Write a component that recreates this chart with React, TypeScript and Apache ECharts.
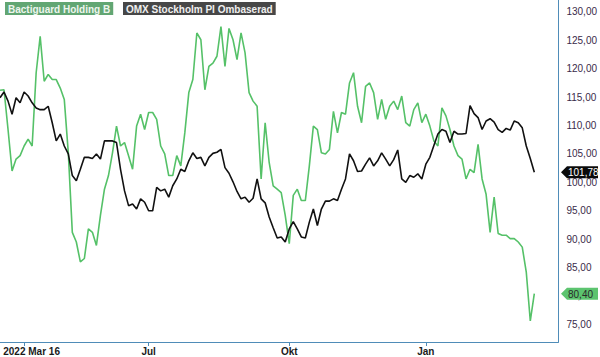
import React, { useEffect, useRef } from 'react';
import * as echarts from 'echarts';

// Trading-day categories (every second weekday from 2022-03-16)
const startDate = '2022-03-16';
const categoryCount = 140;
const categories: string[] = (() => {
  const out: string[] = [];
  const d = new Date(startDate + 'T00:00:00Z');
  let k = 0;
  while (out.length < categoryCount) {
    const wd = d.getUTCDay();
    if (wd !== 0 && wd !== 6) {
      if (k % 2 === 0) out.push(d.toISOString().slice(0, 10));
      k++;
    }
    d.setUTCDate(d.getUTCDate() + 1);
  }
  return out;
})();

const seriesNames = ['Bactiguard Holding B', 'OMX Stockholm PI Ombaserad'];

const bactiguard = [
  116.2, 116.3, 109.3, 102.0, 104.1, 104.7, 106.4, 107.6, 106.4, 119.3,
  125.7, 117.8, 119.0, 118.1, 118.1, 116.6, 114.6, 105.2, 91.2, 89.5,
  86.0, 86.6, 91.8, 91.2, 88.9, 94.2, 98.8, 101.2, 105.2, 109.9,
  106.4, 107.0, 104.7, 102.3, 109.9, 112.0, 109.3, 112.3,
  112.3, 111.1, 106.4, 105.0, 101.2, 101.2, 104.7, 102.9, 108.7, 115.8, 118.1, 126.3,
  125.1, 116.3, 120.4, 121.0, 122.2, 127.4, 120.4, 127.1, 125.1, 121.6,
  126.3, 122.8, 115.8, 114.3, 113.4, 100.6, 110.5, 103.5, 99.4, 98.8,
  98.2, 94.2, 89.2, 97.7, 98.8,
  96.8, 96.8, 102.9, 109.9, 109.3, 105.2, 105.0, 105.8, 112.5, 108.7,
  112.3, 112.0, 117.5, 119.3, 113.4, 110.5, 116.9, 117.5, 115.8, 111.1,
  114.6, 111.1, 113.4, 114.3, 112.8, 115.2, 110.5, 109.9, 112.8, 114.0,
  110.5, 112.0, 109.9,
  107.3, 106.4, 113.1, 111.7, 109.3, 106.4, 104.7, 104.1, 100.6, 102.3,
  101.7, 106.7, 100.6, 97.9, 91.2, 97.4, 91.0, 90.7, 90.7, 90.1,
  90.1, 89.5, 88.6, 84.2, 75.6, 80.4,
];

const omx = [
  114.9, 115.9, 114.3, 112.0, 114.9, 114.0, 115.9, 115.2, 114.0, 113.1,
  112.8, 112.8, 113.4, 110.5, 107.3, 108.5, 106.4, 105.0, 101.2, 100.3,
  102.3, 104.4, 104.4, 104.2, 105.0, 104.1, 107.3, 107.3, 107.3, 107.0,
  102.3, 98.5, 95.9, 96.2, 95.3, 97.1, 96.5, 95.0,
  95.0, 99.1, 98.5, 98.8, 97.4, 99.4, 100.6, 102.3, 101.9, 103.8, 105.2, 104.2,
  104.4, 102.9, 104.4, 105.1, 105.3, 105.8, 102.6, 101.6, 100.1, 98.4,
  97.1, 97.4, 96.5, 97.2, 100.6, 97.1, 96.4, 93.9, 92.0, 90.2,
  90.4, 89.5, 91.8, 93.1, 91.8,
  90.4, 90.2, 93.0, 95.3, 92.4, 95.3, 96.7, 96.7, 97.1, 96.8,
  98.8, 100.6, 105.0, 103.8, 101.9, 102.0, 103.2, 104.3, 102.9, 103.8,
  105.2, 104.1, 102.9, 104.0, 105.7, 100.6, 100.0, 101.2, 100.9, 101.5,
  100.6, 103.2, 104.4,
  106.5, 108.5, 109.3, 109.0, 107.0, 109.0, 108.5, 108.5, 108.6, 113.5,
  112.1, 111.4, 109.3, 110.8, 111.2, 110.6, 109.3, 108.8, 109.5, 109.2,
  110.8, 110.5, 109.6, 106.4, 104.2, 101.78,
];

const xTickIndex = [6, 37, 72, 106];
const xTickLabels = ['2022 Mar 16', 'Jul', 'Okt', 'Jan'];
const yTickValues = [75, 80, 85, 90, 95, 100, 105, 110, 115, 120, 125, 130];
const yMin = 71.9;
const yMax = 132.1;

const GREEN = '#55c168';
const BLACK = '#111111';
const AXIS = '#4f8cb8';

const fmt = (v: number) => v.toFixed(2).replace('.', ',');

export default function App() {
  const ref = useRef<HTMLDivElement>(null);
  useEffect(() => {
    if (!ref.current) return;
    const chart = echarts.init(ref.current, undefined, { renderer: 'svg' });
    chart.setOption({
      animation: false,
      grid: { left: 0, right: 40, top: 0, bottom: 15, containLabel: false },
      xAxis: {
        type: 'category',
        data: categories,
        boundaryGap: false,
        axisLine: { show: true, lineStyle: { color: AXIS, width: 1 } },
        axisTick: {
          show: true,
          length: 4,
          interval: (i: number) => xTickIndex.includes(i),
          lineStyle: { color: AXIS },
        },
        axisLabel: {
          interval: (i: number) => xTickIndex.includes(i),
          formatter: (_v: string, i: number) => {
            const k = xTickIndex.indexOf(i);
            if (k < 0) return '';
            return k === 0 ? '{first|' + xTickLabels[k] + '}' : xTickLabels[k];
          },
          margin: 4,
          color: '#1a1a1a',
          fontFamily: 'Liberation Sans, Arial, sans-serif',
          fontSize: 10,
          fontWeight: 'bold',
          rich: {
            first: {
              padding: [0, 0, 0, 15],
              color: '#1a1a1a',
              fontFamily: 'Liberation Sans, Arial, sans-serif',
              fontSize: 10,
              fontWeight: 'bold',
            },
          },
        },
        splitLine: { show: false },
      },
      yAxis: {
        type: 'value',
        position: 'right',
        min: yMin,
        max: yMax,
        axisLine: { show: true, lineStyle: { color: AXIS, width: 1 } },
        axisTick: { show: false, customValues: yTickValues },
        axisLabel: {
          customValues: yTickValues,
          formatter: (v: number) => fmt(v),
          margin: 8,
          color: '#3a2b4a',
          fontFamily: 'Liberation Sans, Arial, sans-serif',
          fontSize: 10,
        },
        splitLine: { show: false },
      },
      series: [
        {
          name: seriesNames[0],
          type: 'line',
          data: bactiguard,
          showSymbol: false,
          lineStyle: { color: GREEN, width: 1.6 },
          itemStyle: { color: GREEN },
          z: 2,
        },
        {
          name: seriesNames[1],
          type: 'line',
          data: omx,
          showSymbol: false,
          lineStyle: { color: BLACK, width: 1.6 },
          itemStyle: { color: BLACK },
          z: 3,
        },
      ],
    });

    const gridRight = 600 - 40;
    const tag = (value: number, bg: string, fg: string, id: string) => {
      const y = chart.convertToPixel({ yAxisIndex: 0 }, value) as number;
      const h = 6;
      const x0 = gridRight + 1;
      const x1 = 598;
      return {
        type: 'group',
        id,
        children: [
          {
            type: 'polygon',
            shape: {
              points: [
                [x0, y],
                [x0 + 6, y - h],
                [x1, y - h],
                [x1, y + h],
                [x0 + 6, y + h],
              ],
            },
            style: { fill: bg },
            z: 10,
          },
          {
            type: 'text',
            x: x0 + 7,
            y: y + 0.5,
            style: {
              text: fmt(value),
              fill: fg,
              font: '10px "Liberation Sans", Arial, sans-serif',
              verticalAlign: 'middle',
              align: 'left',
            },
            z: 11,
          },
        ],
      };
    };

    const lastGreen = bactiguard[bactiguard.length - 1];
    const lastBlack = omx[omx.length - 1];

    chart.setOption({
      graphic: [
        {
          type: 'text',
          id: 'leg0',
          x: 5,
          y: 2,
          style: {
            text: seriesNames[0],
            fill: '#eef5ee',
            font: 'bold 10px "Liberation Sans", Arial, sans-serif',
            backgroundColor: '#62a673',
            padding: [2, 3, 1, 3],
          },
          z: 20,
        },
        {
          type: 'text',
          id: 'leg1',
          x: 123,
          y: 2,
          style: {
            text: seriesNames[1],
            fill: '#f0f0f0',
            font: 'bold 10px "Liberation Sans", Arial, sans-serif',
            backgroundColor: '#474747',
            padding: [2, 3, 1, 3],
          },
          z: 20,
        },
        tag(lastBlack, '#0a0a0a', '#ffffff', 'tagBlack'),
        tag(lastGreen, '#5cc46f', '#2a2a2a', 'tagGreen'),
      ],
    });

    return () => chart.dispose();
  }, []);

  return (
    <div
      ref={ref}
      style={{ position: 'fixed', left: 0, top: 0, width: 600, height: 357, background: '#ffffff' }}
    />
  );
}
